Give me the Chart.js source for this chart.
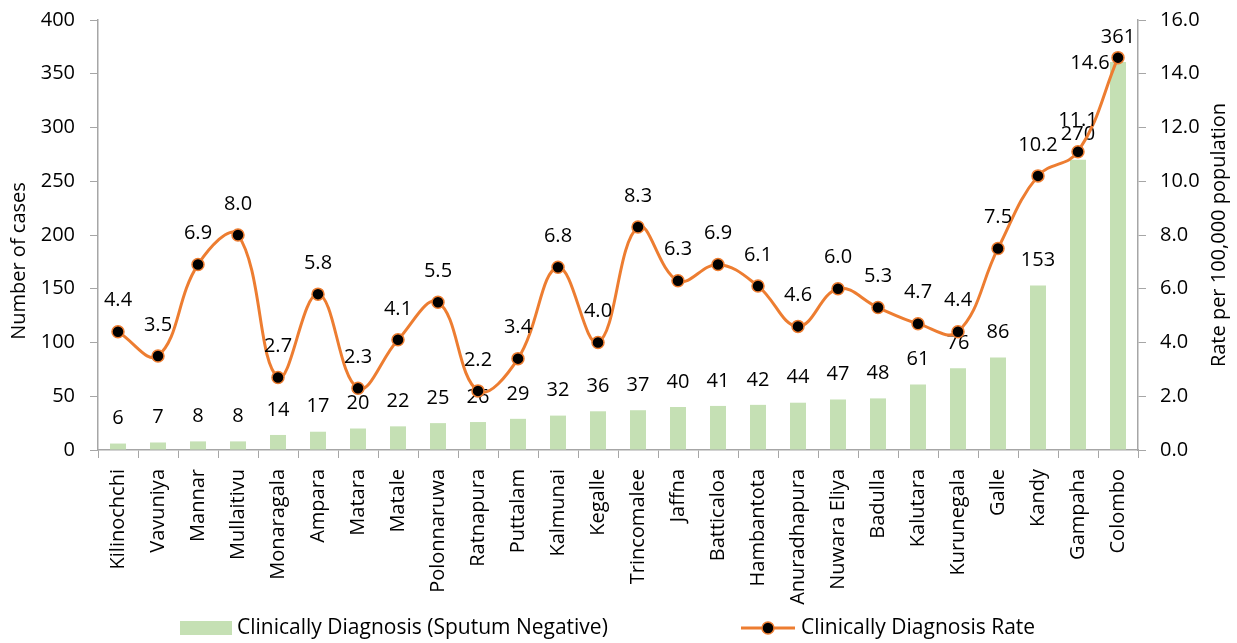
<!DOCTYPE html>
<html>
<head>
<meta charset="utf-8">
<script src="https://cdn.jsdelivr.net/npm/chart.js@4.4.1/dist/chart.umd.min.js"></script>
<style>
  html, body { margin: 0; padding: 0; background: #fff; }
</style>
</head>
<body>
<canvas id="plot-data" width="1237" height="643"></canvas>
<script>
const districts = ['Kilinochchi', 'Vavuniya', 'Mannar', 'Mullaitivu', 'Monaragala', 'Ampara', 'Matara',
    'Matale', 'Polonnaruwa', 'Ratnapura', 'Puttalam', 'Kalmunai', 'Kegalle', 'Trincomalee', 'Jaffna',
    'Batticaloa', 'Hambantota', 'Anuradhapura', 'Nuwara Eliya', 'Badulla', 'Kalutara', 'Kurunegala',
    'Galle', 'Kandy', 'Gampaha', 'Colombo']
const cases = [6, 7, 8, 8, 14, 17, 20, 22, 25, 26, 29, 32, 36, 37, 40, 41, 42, 44, 47, 48, 61, 76, 86, 153, 270, 361]
const rates = [4.4, 3.5, 6.9, 8.0, 2.7, 5.8, 2.3, 4.1, 5.5, 2.2, 3.4, 6.8, 4.0, 8.3, 6.3, 6.9, 6.1, 4.6, 6.0,
    5.3, 4.7, 4.4, 7.5, 10.2, 11.1, 14.6]

const barLabel = 'Clinically Diagnosis (Sputum Negative)'
const lineLabel = 'Clinically Diagnosis Rate'
const leftTitle = 'Number of cases'
const rightTitle = 'Rate per 100,000 population'

const green = '#C5E0B4'
const orange = '#ED7D31'
const axisGray = '#A6A6A6'
const fontFamily = '"Open Sans", "Noto Sans", sans-serif'
const fontSize = 20

Chart.defaults.font.family = fontFamily
Chart.defaults.font.size = fontSize
Chart.defaults.color = '#000'

// numbers above the bars and the points
const valueLabels = {
    id: 'valueLabels',
    afterDatasetDraw(chart, args) {
        const ctx = chart.ctx
        const ds = chart.data.datasets[args.index]
        const isLine = ds.type === 'line'
        ctx.save()
        ctx.font = fontSize + 'px ' + fontFamily
        ctx.fillStyle = '#000'
        ctx.textAlign = 'center'
        ctx.textBaseline = 'middle'
        args.meta.data.forEach((el, i) => {
            const v = ds.data[i]
            let x = el.x
            let y = el.y - (isLine ? 31 : 25)
            if (isLine && y < chart.chartArea.top + 20) {
                // no room above, put it to the left like the original
                x = el.x - 28
                y = el.y + 6
            }
            ctx.fillText(isLine ? v.toFixed(1) : String(v), x, y)
        })
        ctx.restore()
    }
}

// axis titles and legend, drawn by hand
const extras = {
    id: 'extras',
    afterDraw(chart) {
        const ctx = chart.ctx
        const area = chart.chartArea
        ctx.save()
        ctx.font = fontSize + 'px ' + fontFamily
        ctx.fillStyle = '#000'
        ctx.textAlign = 'center'
        ctx.textBaseline = 'middle'

        ctx.save()
        ctx.translate(19, 261)
        ctx.rotate(-Math.PI / 2)
        ctx.fillText(leftTitle, 0, 0)
        ctx.restore()

        ctx.save()
        ctx.translate(1219, (area.top + area.bottom) / 2)
        ctx.rotate(-Math.PI / 2)
        ctx.fillText(rightTitle, 0, 0)
        ctx.restore()

        const y = 628
        ctx.font = '21px ' + fontFamily
        ctx.textAlign = 'left'
        ctx.fillStyle = green
        ctx.fillRect(180, y - 7, 52, 14)
        ctx.fillStyle = '#000'
        ctx.fillText(barLabel, 237, y)

        ctx.strokeStyle = orange
        ctx.lineWidth = 3
        ctx.beginPath()
        ctx.moveTo(741, y)
        ctx.lineTo(795, y)
        ctx.stroke()
        ctx.beginPath()
        ctx.arc(768, y, 6, 0, Math.PI * 2)
        ctx.fillStyle = '#000'
        ctx.fill()
        ctx.lineWidth = 1.5
        ctx.stroke()
        ctx.fillStyle = '#000'
        ctx.fillText(lineLabel, 801, y)
        ctx.restore()
    }
}

// fixed axis width; drop the extra top/bottom padding chart.js adds for tick padding
function fixWidth(w) {
    return function (scale) {
        scale.width = w
        scale.paddingTop = 0
        scale.paddingBottom = 0
    }
}

const ctx = document.getElementById('plot-data').getContext('2d')
const chart = new Chart(ctx, {
    data: {
        labels: districts,
        datasets: [{
            type: 'bar',
            label: barLabel,
            data: cases,
            backgroundColor: green,
            barPercentage: 0.4,
            categoryPercentage: 1,
            yAxisID: 'y',
            order: 2
        }, {
            type: 'line',
            label: lineLabel,
            data: rates,
            borderColor: orange,
            borderWidth: 3,
            tension: 0.4,
            pointRadius: 6,
            pointBackgroundColor: '#000',
            pointBorderColor: orange,
            pointBorderWidth: 1.5,
            yAxisID: 'y1',
            order: 1
        }]
    },
    options: {
        responsive: false,
        animation: false,
        devicePixelRatio: 1,
        layout: {
            padding: { top: 20, left: 0, right: 0, bottom: 0 }
        },
        plugins: {
            legend: { display: false },
            tooltip: { enabled: false }
        },
        scales: {
            x: {
                offset: true,
                grid: {
                    offset: true,
                    drawOnChartArea: false,
                    tickLength: 8,
                    color: axisGray
                },
                border: { color: axisGray, width: 1.5 },
                ticks: {
                    autoSkip: false,
                    minRotation: 90,
                    maxRotation: 90,
                    padding: 11
                },
                afterFit(scale) {
                    scale.height = 193
                }
            },
            y: {
                position: 'left',
                min: 0,
                max: 400,
                grid: {
                    drawOnChartArea: false,
                    tickLength: 8,
                    color: axisGray
                },
                border: { color: axisGray, width: 1.5 },
                ticks: { stepSize: 50, padding: 15 },
                afterFit: fixWidth(98)
            },
            y1: {
                position: 'right',
                min: 0,
                max: 16,
                grid: {
                    drawOnChartArea: false,
                    tickLength: 8,
                    color: axisGray
                },
                border: { color: axisGray, width: 1.5 },
                ticks: {
                    stepSize: 2,
                    padding: 14,
                    callback: (v) => v.toFixed(1)
                },
                afterFit: fixWidth(99)
            }
        }
    },
    plugins: [valueLabels, extras]
})
</script>
</body>
</html>
